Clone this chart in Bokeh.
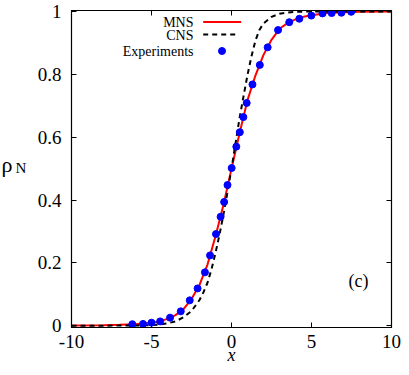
from bokeh.plotting import figure
from bokeh.models import Range1d, LinearAxis, FixedTicker, Label, PolyAnnotation, BoxAnnotation
from bokeh.embed import file_html
from bokeh.resources import INLINE

# ---- data ----
x_ticks = [-10, -5, 0, 5, 10]
x_tick_labels = ["-10", "-5", "0", "5", "10"]
y_ticks = [0, 0.2, 0.4, 0.6, 0.8, 1]
y_tick_labels = ["0", "0.2", "0.4", "0.6", "0.8", "1"]

mns_x = [-10, -8, -7, -6, -5, -4.5, -4, -3.5, -3, -2.5, -2, -1.5, -1, -0.5, 0,
         0.5, 1, 1.5, 2, 2.5, 3, 3.5, 4, 4.5, 5, 6, 7, 8, 10]
mns_y = [0.001, 0.002, 0.003, 0.005, 0.010, 0.014, 0.022, 0.034, 0.053, 0.085,
         0.130, 0.195, 0.285, 0.385, 0.500, 0.612, 0.718, 0.797, 0.862, 0.910,
         0.945, 0.963, 0.975, 0.983, 0.988, 0.995, 0.998, 0.999, 1.0]

cns_x = [-10, -6, -5, -4.5, -4, -3.5, -3, -2.5, -2, -1.75, -1.5, -1.25, -1, -0.75,
         -0.5, -0.25, 0, 0.25, 0.5, 0.75, 1, 1.25, 1.5, 1.75, 2, 2.5, 3, 3.5, 4, 5, 10]
cns_y = [0.0, 0.001, 0.002, 0.004, 0.008, 0.014, 0.027, 0.047, 0.082, 0.107,
         0.137, 0.180, 0.232, 0.290, 0.355, 0.425, 0.500, 0.580, 0.660, 0.730,
         0.798, 0.858, 0.908, 0.942, 0.962, 0.983, 0.993, 0.997, 0.999, 1.0, 1.0]

exp_x = [-6.20, -5.53, -5.00, -4.46, -3.84, -3.17, -2.61, -2.12, -1.66, -1.34,
         -0.97, -0.68, -0.46, -0.25, 0.01, 0.30, 0.52, 0.74, 0.95, 1.31,
         1.77, 2.26, 2.91, 3.61, 4.24, 4.99, 5.69, 6.26, 6.87, 7.48]
exp_y = [0.005, 0.006, 0.010, 0.014, 0.026, 0.046, 0.081, 0.119, 0.170, 0.224,
         0.292, 0.347, 0.394, 0.448, 0.502, 0.570, 0.616, 0.664, 0.709, 0.768,
         0.830, 0.886, 0.941, 0.966, 0.977, 0.987, 0.994, 0.995, 0.996, 0.999]

series_names = ["MNS", "CNS", "Experiments"]

SERIF = "Liberation Serif"

p = figure(width=401, height=367, output_backend="svg", toolbar_location=None,
           x_range=Range1d(-10, 10), y_range=Range1d(-0.0054, 1.0032))
p.min_border_left = 71
p.min_border_right = 10
p.min_border_top = 10
p.min_border_bottom = 39
p.xgrid.visible = False
p.ygrid.visible = False
p.outline_line_color = "black"
p.outline_line_width = 1.2
p.background_fill_color = "white"
p.border_fill_color = "white"

p.line(mns_x, mns_y, line_color="#ff0000", line_width=2)
p.line(cns_x, cns_y, line_color="black", line_width=2, line_dash="5 4")
p.scatter(exp_x, exp_y, size=7, fill_color="#0000ff", line_color="#0000ff")

def style_axis(ax, ticks, labels=None):
    ax.ticker = FixedTicker(ticks=ticks)
    ax.major_tick_in = 5
    ax.major_tick_out = 0
    ax.minor_tick_in = 0
    ax.minor_tick_out = 0
    ax.axis_line_color = "black"
    ax.major_tick_line_color = "black"
    ax.major_label_text_font = SERIF
    if labels is not None:
        ax.major_label_overrides = {t: s for t, s in zip(ticks, labels)}
        ax.major_label_text_font_size = "19px"
        ax.major_label_text_color = "black"
    else:
        # mirror axis: ticks only, labels not drawn
        ax.major_label_text_font_size = "1px"
        ax.major_label_text_color = None
        ax.major_label_standoff = 0

xa = p.xaxis[0]
style_axis(xa, x_ticks, x_tick_labels)
xa.major_label_standoff = 7
xa.axis_label = "x"
xa.axis_label_text_font = SERIF
xa.axis_label_text_font_style = "italic"
xa.axis_label_text_font_size = "18px"
xa.axis_label_text_color = "black"
xa.axis_label_standoff = -6

ya = p.yaxis[0]
style_axis(ya, y_ticks, y_tick_labels)
ya.major_label_standoff = 10

top_ax = LinearAxis()
style_axis(top_ax, x_ticks)
p.add_layout(top_ax, "above")
right_ax = LinearAxis()
style_axis(right_ax, y_ticks)
p.add_layout(right_ax, "right")

# y-axis title  rho_N  (placed in the left side panels, so not clipped by the frame)
p.add_layout(Label(x=-22, y=163, x_units="screen", y_units="screen", text="ρ",
                   text_font=SERIF, text_font_size="22px",
                   text_align="left", text_baseline="alphabetic", text_color="black"), "left")
p.add_layout(Label(x=3, y=160, x_units="screen", y_units="screen", text="N",
                   text_font=SERIF, text_font_size="15px",
                   text_align="left", text_baseline="alphabetic", text_color="black"), "left")

p.add_layout(Label(x=287, y=47, x_units="screen", y_units="screen", text="(c)",
                   text_font=SERIF, text_font_size="18px",
                   text_align="center", text_baseline="middle", text_color="black"))

# legend (text left, sample right, gnuplot style)
leg_text_y = [304.7, 291.9, 276.2]
for name, ty in zip(series_names, leg_text_y):
    p.add_layout(Label(x=122, y=ty, x_units="screen", y_units="screen", text=name,
                       text_font=SERIF, text_font_size="14px", text_align="right",
                       text_baseline="middle", text_color="black"))
p.add_layout(PolyAnnotation(xs=[131.7, 169.7], ys=[305.5, 305.5], xs_units="screen",
                            ys_units="screen", fill_alpha=0, line_color="#ff0000",
                            line_alpha=1, line_width=2))
p.add_layout(PolyAnnotation(xs=[131.7, 165.7], ys=[292.9, 292.9], xs_units="screen",
                            ys_units="screen", fill_alpha=0, line_color="black",
                            line_alpha=1, line_width=2, line_dash="5 4"))
p.add_layout(BoxAnnotation(left=147, right=154, bottom=273, top=280,
                           left_units="screen", right_units="screen",
                           bottom_units="screen", top_units="screen",
                           fill_color="#0000ff", fill_alpha=1, line_color="#0000ff",
                           line_alpha=1, border_radius=4))

open("out.html", "w").write(file_html(p, INLINE))
